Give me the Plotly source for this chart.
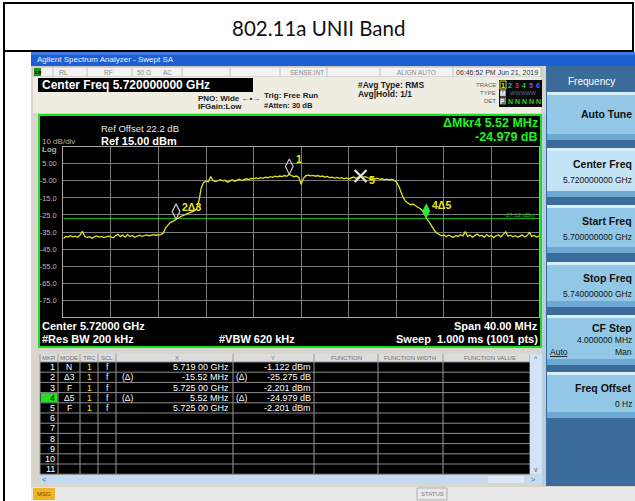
import plotly.graph_objects as go

W, H = 635, 501
UI = "Liberation Sans, Arial, sans-serif"

# ---------------- data ----------------
TITLE = "802.11a UNII Band"
START_GHZ = 5.700
STOP_GHZ = 5.740
STEP_GHZ = 0.0002          # sweep sampling used for the read-off trace
REF_LEVEL_DBM = 15.0
BOTTOM_DBM = -85.0
DISPLAY_LINE_DBM = -27.12

trace_dbm = [
    -39.0, -37.6, -37.9, -37.2, -37.8, -37.4, -38.1, -36.9, -34.6, -37.5,
    -38.2, -37.7, -38.6, -37.9, -37.3, -38.0, -37.6, -38.3, -37.8, -37.4,
    -37.9, -38.4, -37.1, -36.4, -37.7, -36.8, -38.0, -36.5, -37.6, -37.0,
    -38.1, -37.3, -36.9, -37.5, -37.0, -36.7, -37.2, -36.8, -36.6, -36.9,
    -36.7, -36.5, -35.8, -32.5, -31.0, -29.5, -28.8, -27.9, -26.9, -26.2,
    -25.5, -25.0, -24.4, -23.9, -23.0, -22.6, -21.5, -17.0, -9.0, -6.0,
    -5.2, -5.6, -2.5, -5.0, -5.4, -4.8, -4.3, -5.0, -4.6, -5.8,
    -4.9, -4.4, -5.2, -4.7, -4.1, -4.8, -4.5, -3.8, -4.2, -3.6,
    -3.9, -3.3, -3.7, -3.1, -3.5, -2.9, -3.2, -2.6, -3.0, -2.3,
    -2.7, -2.2, -2.5, -1.9, -2.4, -1.1, -2.0, -2.6, -2.2, -3.0,
    -7.0, -3.5, -2.0, -1.7, -2.1, -1.8, -2.3, -1.9, -2.5, -2.2,
    -2.8, -2.4, -3.1, -2.9, -3.4, -3.0, -3.6, -3.2, -3.8, -3.3,
    -3.9, -3.4, -2.8, -3.5, -2.9, -2.2, -3.0, -2.6, -3.2, -3.6,
    -3.3, -3.9, -3.5, -4.1, -3.8, -4.3, -4.0, -4.5, -4.2, -4.6,
    -5.5, -8.0, -11.5, -15.0, -17.2, -18.0, -19.0, -18.6, -19.8, -20.5,
    -21.2, -22.5, -25.0, -27.8, -29.5, -32.0, -34.0, -35.6, -36.4, -37.2,
    -36.8, -37.8, -36.9, -37.5, -38.2, -37.0, -37.6, -36.6, -37.3, -34.8,
    -37.5, -36.8, -38.0, -37.1, -36.2, -37.4, -36.9, -38.1, -36.5, -37.6,
    -37.0, -38.3, -37.2, -36.7, -37.8, -36.4, -34.9, -37.5, -36.9, -37.8,
    -37.2, -38.0, -37.4, -36.8, -37.9, -37.1, -35.3, -37.6, -37.0, -38.0,
    -37.4,
]
freq_ghz = [START_GHZ + i * STEP_GHZ for i in range(len(trace_dbm))]

# on-screen markers
mk_label = ["1", "2\u03943", "5", "4\u03945"]
mk_freq = [5.719, 5.70948, 5.725, 5.73052]
mk_level = [-1.122, -27.476, -2.201, -27.180]

ytick_vals = [15, 5, -5, -15, -25, -35, -45, -55, -65, -75, -85]
ytick_text = ["", "5.00", "-5.00", "-15.0", "-25.0", "-35.0", "-45.0", "-55.0", "-65.0", "-75.0", ""]

# marker table
tbl_num = ["1", "2", "3", "4", "5", "6", "7", "8", "9", "10", "11"]
tbl_mode = ["N", "\u03943", "F", "\u03945", "F", "", "", "", "", "", ""]
tbl_trc = ["1", "1", "1", "1", "1", "", "", "", "", "", ""]
tbl_scl = ["f", "f", "f", "f", "f", "", "", "", "", "", ""]
tbl_xdelta = ["", "(\u0394)", "", "(\u0394)", "", "", "", "", "", "", ""]
tbl_x = ["5.719 00 GHz", "-15.52 MHz", "5.725 00 GHz", "5.52 MHz", "5.725 00 GHz", "", "", "", "", "", ""]
tbl_ydelta = ["", "(\u0394)", "", "(\u0394)", "", "", "", "", "", "", ""]
tbl_y = ["-1.122 dBm", "-25.275 dB", "-2.201 dBm", "-24.979 dB", "-2.201 dBm", "", "", "", "", "", ""]

softkeys = [("Auto Tune", ""), ("Center Freq", "5.720000000 GHz"), ("Start Freq", "5.700000000 GHz"),
            ("Stop Freq", "5.740000000 GHz"), ("CF Step", "4.000000 MHz"), ("Freq Offset", "0 Hz")]

# ---------------- helpers (pixel -> paper) ----------------
shapes, annots = [], []


def rect(x0, y0, x1, y1, fill, lc=None, lw=0, layer="below"):
    shapes.append(dict(type="rect", xref="paper", yref="paper", x0=x0 / W, x1=x1 / W,
                       y0=1 - y1 / H, y1=1 - y0 / H, fillcolor=fill,
                       line=dict(color=lc if lc else fill, width=lw), layer=layer))


def seg(x0, y0, x1, y1, color, w=1, layer="below"):
    shapes.append(dict(type="line", xref="paper", yref="paper", x0=x0 / W, x1=x1 / W,
                       y0=1 - y0 / H, y1=1 - y1 / H, line=dict(color=color, width=w), layer=layer))


def txt(x, y, s, size, color, anchor="left", bold=False, family=UI):
    annots.append(dict(xref="paper", yref="paper", x=x / W, y=1 - y / H,
                       text=("<b>%s</b>" % s) if bold else s, showarrow=False,
                       xanchor=anchor, yanchor="middle", borderpad=0,
                       font=dict(size=size, color=color, family=family)))


# ---------------- page frame ----------------
rect(4, 3, 633, 51, "white", "black", 2)
txt(318, 28, TITLE, 20.5, "#111111", "center", family="Lato, Noto Sans, sans-serif")
seg(4, 3, 4, 501, "black", 2)

# analyzer window background
rect(31, 52, 635, 501, "#d8d5cc")
# title bar
rect(31, 52, 635, 66, "#1d5fd0")
rect(31, 52, 635, 55, "#3d7be6")
txt(36, 59.5, "Agilent Spectrum Analyzer - Swept SA", 8, "#eef4ff")

# status row
rect(33, 67, 541, 77, "#f3f3f3", "#b8b8b8", 1)
rect(34, 68, 41, 76, "#1f8f1f")
txt(37.5, 72, "<b>LXI</b>", 4, "black", "center")
for xd in (53, 87, 132, 182, 230, 280, 327, 380, 453):
    seg(xd, 67, xd, 77, "#c0c0c0")
txt(58, 72, "RL", 7, "#808080")
txt(108, 72, "RF", 6.5, "#8a8a8a", "center")
txt(136, 72, "50 \u03a9", 6.5, "#8a8a8a")
txt(162, 72, "AC", 6.5, "#8a8a8a")
txt(307, 72, "SENSE:INT", 6.5, "#8a8a8a", "center")
txt(416, 72, "ALIGN AUTO", 6.5, "#8a8a8a", "center")
txt(497, 72, "06:46:52 PM Jun 21, 2019", 7, "#303030", "center")

# settings area
rect(33, 77, 541, 113, "#efece2")
rect(38, 78, 253, 92, "black")
txt(41, 85.5, "Center Freq 5.720000000 GHz", 12, "white", bold=True)
txt(197, 98, "PNO: Wide \u2190\u2022\u2192", 8, "#1a1a1a", bold=True)
txt(197, 106.5, "IFGain:Low", 8, "#1a1a1a", bold=True)
txt(263, 95, "Trig: Free Run", 8, "#1a1a1a", bold=True)
txt(263, 105.5, "#Atten: 30 dB", 7.5, "#1a1a1a", bold=True)
txt(357, 85, "#Avg Type: RMS", 8.5, "#1a1a1a", bold=True)
txt(357, 94, "Avg|Hold: 1/1", 8.5, "#1a1a1a", bold=True)
txt(497, 85, "TRACE", 6, "#606060", "right")
txt(497, 93, "TYPE", 6, "#606060", "right")
txt(497, 101, "DET", 6, "#606060", "right")
rect(499, 80, 542, 107, "#0a0a0a")
rect(500, 81, 506, 89, "#0a0a0a", "#d8d800", 1)
tr_cols = ["#e8e800", "#20c0c0", "#d020d0", "#20d020", "#a040f0", "#4060ff"]
for i, c in enumerate(tr_cols):
    txt(503 + i * 7, 85, str(i + 1), 7, c, "center", bold=True)
rect(500, 89.5, 506, 96.5, "#7a7a7a")
txt(503, 93, "M", 6.5, "white", "center", bold=True)
txt(509, 93, "WWWWW", 5.5, "#5a6a8a")
rect(500, 97.5, 506, 104.5, "#7a7a7a")
txt(503, 101, "P", 6.5, "white", "center", bold=True)
for i in range(5):
    txt(510 + i * 7, 101, "N", 7, "#20d020", "center", bold=True)

# display region
rect(39, 115, 541, 347, "black", "#18e018", 2)
rect(542, 113, 546, 486, "#b9cde0")

# ---------------- softkey panel ----------------
rect(546, 66, 635, 486, "#3a6b9b")
txt(591, 81, "Frequency", 10, "white", "center")
btn_y = [(92, 140), (148, 197), (205, 253), (262, 307), (315, 365), (372, 418)]
for (t, s), (y0, y1) in zip(softkeys, btn_y):
    base = "#c3e4f6" if t == "Center Freq" else "#92c8e6"
    rect(547, y0, 635, y1, base)
    rect(547, y0, 635, y0 + 3, "#d6eefa")
    rect(547, y1 - 6, 635, y1, "#6ca9d3")
    if t == "Auto Tune":
        txt(633, (y0 + y1) / 2 - 2, t, 10.5, "#111111", "right", bold=True)
    elif t == "CF Step":
        txt(633, y0 + 13, t, 10.5, "#111111", "right", bold=True)
        txt(633, y0 + 25, s, 8.5, "#111111", "right")
        txt(633, y0 + 37, "Man", 8.5, "#111111", "right")
        txt(549, y0 + 37, "<u>Auto</u>", 8.5, "#111111", "left")
    else:
        txt(633, y0 + 16, t, 10.5, "#111111", "right", bold=True)
        txt(633, y0 + 32, s, 8.5, "#111111", "right")

# ---------------- marker table ----------------
TX0, TX1 = 40, 530
HY0, HY1 = 354, 362
ROW_H = 10.2
col_b = [40, 58, 80, 98, 116, 233, 314, 378, 443, 530]
rect(TX0, HY0, 542, HY1, "#dcdcdc")
rect(TX0, HY1, TX1, HY1 + 11 * ROW_H, "black")
for xb in col_b:
    seg(xb, HY0, xb, HY1 + 11 * ROW_H, "#9a9a9a")
for r in range(12):
    yy = HY1 + r * ROW_H
    seg(TX0, yy, TX1, yy, "#8c8c8c")
hdr = [("MKR", 49), ("MODE", 69), ("TRC", 89), ("SCL", 107), ("X", 177), ("Y", 273),
       ("FUNCTION", 346), ("FUNCTION WIDTH", 410), ("FUNCTION VALUE", 490)]
for s, xc in hdr:
    txt(xc, 358, s, 6, "#707070", "center")
for r in range(11):
    yc = HY1 + r * ROW_H + ROW_H / 2
    if tbl_num[r] == "4":
        rect(41, yc - ROW_H / 2 + 0.5, 57.5, yc + ROW_H / 2 - 0.5, "#22e022")
        txt(56, yc, tbl_num[r], 9, "black", "right")
    else:
        txt(56, yc, tbl_num[r], 9, "white", "right")
    txt(69, yc, tbl_mode[r], 8.5, "white", "center")
    txt(89, yc, tbl_trc[r], 8.5, "#f0f000", "center")
    txt(107, yc, tbl_scl[r], 8.5, "white", "center")
    txt(121, yc, tbl_xdelta[r], 8.5, "white", "left")
    txt(230, yc, tbl_x[r], 9, "white", "right")
    txt(235, yc, tbl_ydelta[r], 8.5, "white", "left")
    txt(312, yc, tbl_y[r], 9, "white", "right")
# scrollbars
rect(530, HY0, 542, HY1 + 11 * ROW_H, "#d3e3f3")
txt(536, 358, "^", 7, "#406080", "center")
txt(536, 469, "v", 7, "#406080", "center")
rect(40, 475, 542, 484, "#c4daf0")
txt(44, 479.5, "<", 7, "#406080", "center")
txt(533, 479.5, ">", 7, "#406080", "center")
rect(488, 476, 524, 483, "#dbe9f7")
# bottom bar
rect(31, 487, 635, 501, "#e8e8e8")
rect(33, 488, 55, 500, "#f2b22a")
txt(44, 494, "MSG", 6, "#6a4a00", "center")
rect(417, 488, 447, 500, "#e8e8e8", "#b0b0b0", 1)
txt(432, 494, "STATUS", 6, "#808080", "center")

# ---------------- display annotations ----------------
txt(100, 129, "Ref Offset 22.2 dB", 9.5, "#e8e8e8")
txt(100, 140.5, "Ref 15.00 dBm", 11, "white", bold=True)
txt(41, 141, "10 dB/div", 8, "#b0b0b0")
txt(41, 149.5, "Log", 8, "#b0b0b0", bold=True)
txt(539, 122.5, "\u0394Mkr4 5.52 MHz", 12.5, "#22f022", "right", bold=True)
txt(539, 136.5, "-24.979 dB", 12.5, "#22f022", "right", bold=True)
txt(41, 325.5, "Center 5.72000 GHz", 11, "white", bold=True)
txt(539, 325.5, "Span 40.00 MHz", 11, "white", "right", bold=True)
txt(41, 338.5, "#Res BW 200 kHz", 11, "white", bold=True)
txt(218, 338.5, "#VBW 620 kHz", 11, "white", bold=True)
txt(539, 338.5, "Sweep  1.000 ms (1001 pts)", 11, "white", "right", bold=True)

# ---------------- the spectrum plot ----------------
GX0, GX1, GY0, GY1 = 63.3, 539.0, 146.7, 317.3
px_per_db = (GY1 - GY0) / (REF_LEVEL_DBM - BOTTOM_DBM)
diam_off = 7.6 / px_per_db   # diamond markers sit with their lower tip on the trace

fig = go.Figure()
fig.add_trace(go.Scatter(x=[START_GHZ, STOP_GHZ], y=[DISPLAY_LINE_DBM, DISPLAY_LINE_DBM], mode="lines",
                         line=dict(color="#12b812", width=1), hoverinfo="skip"))
fig.add_trace(go.Scatter(x=freq_ghz, y=trace_dbm, mode="lines",
                         line=dict(color="#e2e21c", width=1.3), hoverinfo="skip"))
# hollow diamonds (markers 1 and 2)
fig.add_trace(go.Scatter(x=[mk_freq[0], mk_freq[1]], y=[mk_level[0] + diam_off, mk_level[1] + diam_off],
                         mode="markers", marker=dict(symbol="diamond-tall-open", size=11, color="#c8c8c8",
                                                     line=dict(width=1.2)), hoverinfo="skip"))
# fixed marker 5 (X)
fig.add_trace(go.Scatter(x=[mk_freq[2]], y=[mk_level[2]], mode="markers",
                         marker=dict(symbol="x-thin-open", size=12, color="#e4e4e4", line=dict(width=2.2)),
                         hoverinfo="skip"))
# active marker 4 (filled green)
fig.add_trace(go.Scatter(x=[mk_freq[3]], y=[mk_level[3] + diam_off], mode="markers",
                         marker=dict(symbol="diamond-tall", size=11, color="#20f040"), hoverinfo="skip"))

mk_shift = [(5, 15), (4, 12), (6, -4), (4, 14)]
for lab, f, lv, (dx, dy) in zip(mk_label, mk_freq, mk_level, mk_shift):
    annots.append(dict(xref="x", yref="y", x=f, y=lv, xshift=dx, yshift=dy, text="<b>%s</b>" % lab,
                       showarrow=False, xanchor="left", yanchor="middle",
                       font=dict(size=10.5, color="#e8e820", family=UI)))
annots.append(dict(xref="x", yref="y", x=STOP_GHZ, y=DISPLAY_LINE_DBM, yshift=4, xshift=-2,
                   text="%.2f dBm" % DISPLAY_LINE_DBM, showarrow=False, xanchor="right", yanchor="middle",
                   font=dict(size=6, color="#18c018", family=UI)))

fig.update_layout(
    width=W, height=H, autosize=False, margin=dict(l=0, r=0, t=0, b=0, pad=0),
    paper_bgcolor="white", plot_bgcolor="rgba(0,0,0,0)", showlegend=False,
    shapes=shapes, annotations=annots,
    xaxis=dict(domain=[GX0 / W, GX1 / W], range=[START_GHZ, STOP_GHZ], tickmode="linear",
               tick0=START_GHZ, dtick=0.004, showticklabels=False, ticks="",
               showgrid=True, gridcolor="#7c7c7c", gridwidth=1, zeroline=False,
               showline=True, mirror=True, linecolor="#a8a8a8", linewidth=1, fixedrange=True),
    yaxis=dict(domain=[1 - GY1 / H, 1 - GY0 / H], range=[BOTTOM_DBM, REF_LEVEL_DBM],
               tickmode="array", tickvals=ytick_vals, ticktext=ytick_text, ticks="",
               ticklabelstandoff=4, tickfont=dict(size=7.5, color="#b8b8b8", family=UI),
               showgrid=True, gridcolor="#7c7c7c", gridwidth=1, zeroline=False,
               showline=True, mirror=True, linecolor="#a8a8a8", linewidth=1, fixedrange=True),
)

fig.write_html("out.html", config={"displayModeBar": False, "staticPlot": True},
               post_script="document.body.style.margin='0px';document.body.style.overflow='hidden';")
